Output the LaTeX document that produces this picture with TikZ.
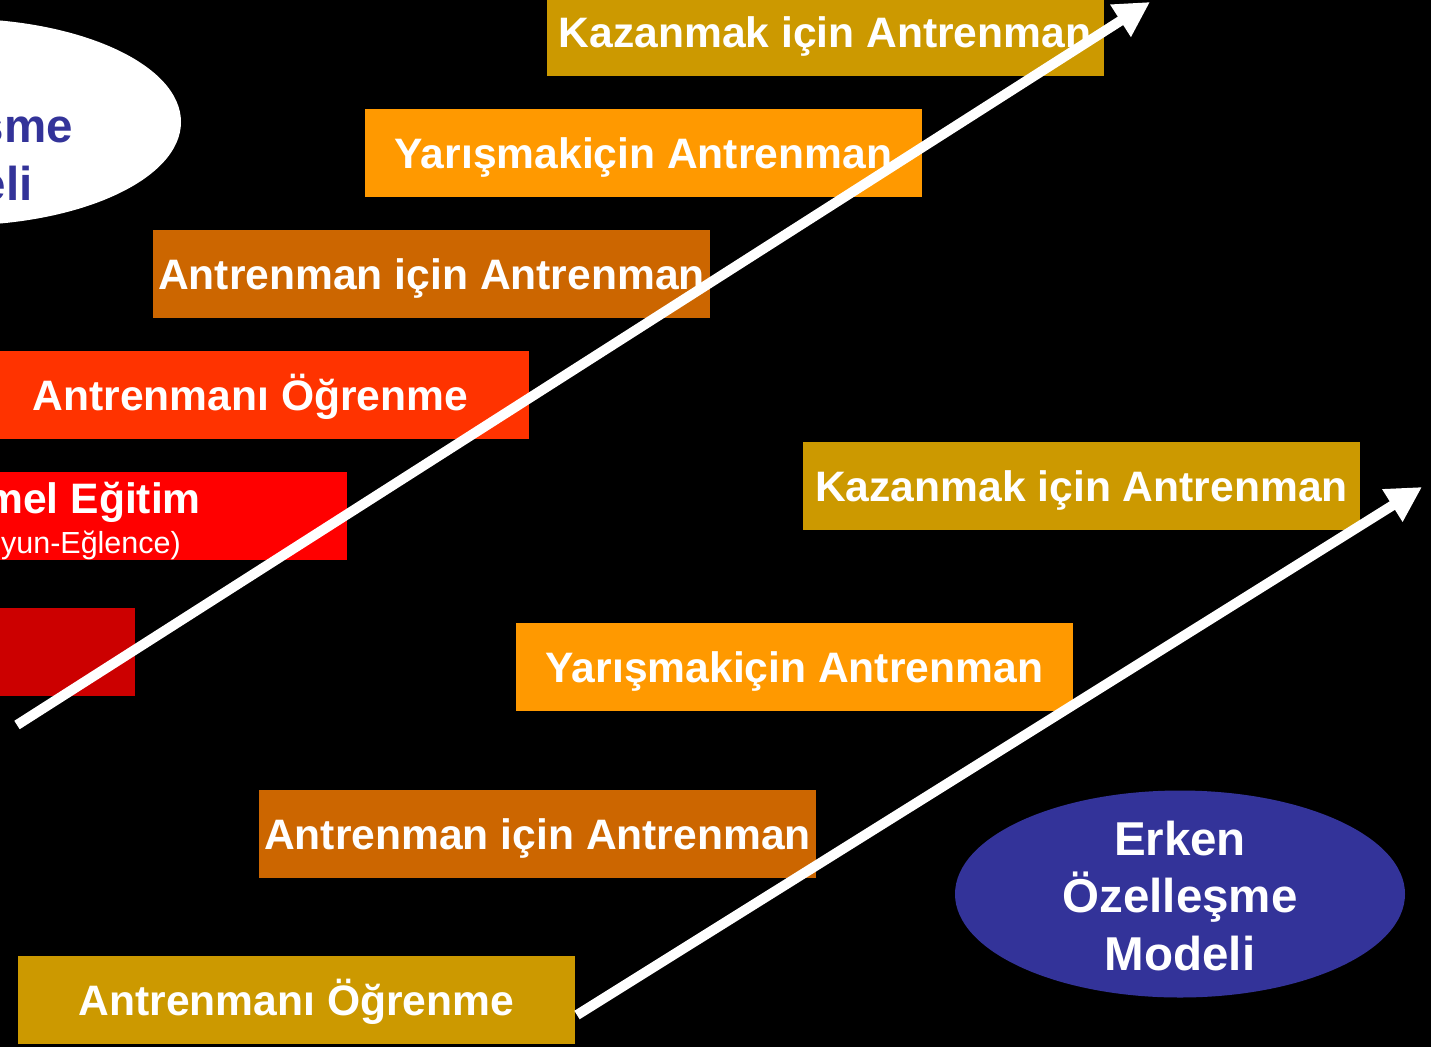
\documentclass[tikz,border=0pt]{standalone}
\usepackage{fontspec}
\setmainfont{Liberation Sans}
\usetikzlibrary{positioning,arrows.meta,shapes.geometric}

\definecolor{stageGold}{HTML}{CC9900}
\definecolor{stageOrange}{HTML}{FF9900}
\definecolor{stageBrown}{HTML}{CC6600}
\definecolor{stageFlame}{HTML}{FF3300}
\definecolor{stageRed}{HTML}{FF0000}
\definecolor{stageDark}{HTML}{CC0000}
\definecolor{modelBlue}{HTML}{333399}

\begin{document}
\begin{tikzpicture}[x=1pt, y=-1pt, >={Triangle[length=35pt,width=36pt]},
  stage/.style={rectangle, minimum width=557pt, minimum height=88pt, inner sep=0pt,
    text height=30.5pt, text depth=0pt,
    text=white, font=\bfseries\fontsize{42.6}{50}\selectfont},
  model/.style={ellipse, minimum width=450pt, minimum height=207pt, inner sep=0pt},
  modeltext/.style={font=\bfseries\fontsize{47.5}{57.5}\selectfont, inner sep=0pt}]
  % Frame
  \useasboundingbox (0,0) rectangle (1431,1047);
  \fill[black] (0,0) rectangle (1431,1047);
  \clip (0,0) rectangle (1431,1047);

  % Late specialisation (top left)
  \node[model, fill=white] (lateModel) at (-44,122) {};
  \node[modeltext, text=modelBlue, anchor=base east] (lateTop) at (73,142) {sme};
  \node[modeltext, text=modelBlue, anchor=base east] (lateBottom) at (33,200) {eli};

  \node[stage, fill=stageGold] (winA) at (825,32) {Kazanmak için Antrenman};
  \node[stage, fill=stageOrange] (raceA) at (643.5,153) {Yarışmakiçin Antrenman};
  \node[stage, fill=stageBrown] (trainA) at (431.5,274) {Antrenman için Antrenman};
  \node[stage, fill=stageFlame] (learnA) at (250.5,395) {Antrenmanı Öğrenme};
  \node[stage, fill=stageRed] (basicA) at (68.5,516) {};
  \node[anchor=base east, inner sep=0pt, text=white, font=\bfseries\fontsize{42.6}{50}\selectfont] (basicTop) at (201,513) {mel Eğitim};
  \node[anchor=base east, inner sep=0pt, text=white, font=\fontsize{30.5}{36}\selectfont] (basicBottom) at (181,553) {yun-Eğlence)};
  \node[stage, fill=stageDark] (startA) at (-143.5,652) {};

  % Early specialisation (bottom right)
  \node[stage, fill=stageGold] (winB) at (1081.5,486) {Kazanmak için Antrenman};
  \node[stage, fill=stageOrange] (raceB) at (794.5,667) {Yarışmakiçin Antrenman};
  \node[stage, fill=stageBrown] (trainB) at (537.5,834) {Antrenman için Antrenman};
  \node[stage, fill=stageGold] (learnB) at (296.5,1000) {Antrenmanı Öğrenme};

  \node[model, fill=modelBlue] (earlyModel) at (1180,894) {};
  \node[modeltext, text=white, align=center] (earlyText) at (1180,896) {Erken\\Özelleşme\\Modeli};

  % Arrows
  \coordinate (lateStart) at (17,725);
  \coordinate (lateEnd) at (1150,2);
  \coordinate (earlyStart) at (577,1015);
  \coordinate (earlyEnd) at (1422,487);
  \draw[->, white, line width=10pt] (lateStart) -- (lateEnd);
  \draw[->, white, line width=10pt] (earlyStart) -- (earlyEnd);
\end{tikzpicture}
\end{document}
